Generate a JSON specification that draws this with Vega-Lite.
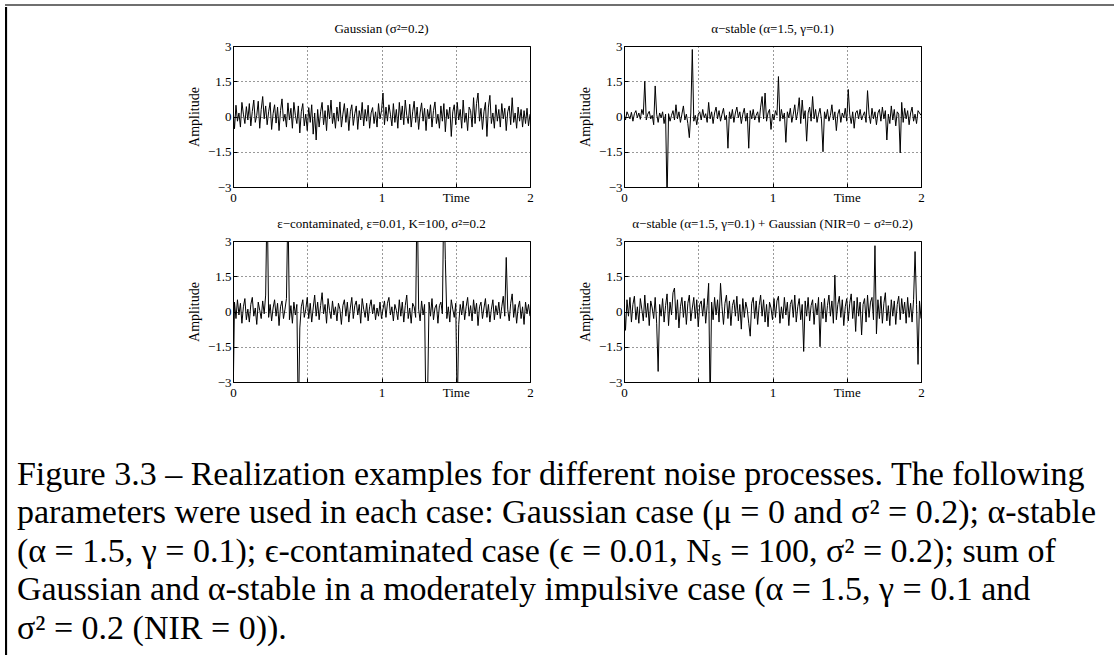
{
  "$schema": "https://vega.github.io/schema/vega-lite/v6.json",
  "background": "white",
  "padding": {"left": 5, "top": 4, "right": 0, "bottom": 0},
  "data": {"values": [
{"t":0,"a":0.35,"b":0.1,"c":-4.2,"d":0.4},
{"t":0.01,"a":-0.52,"b":-0.15,"c":0.4,"d":-0.8},
{"t":0.02,"a":0.48,"b":0.2,"c":-0.3,"d":0.5},
{"t":0.03,"a":-0.2,"b":0.05,"c":0.5,"d":-0.2},
{"t":0.04,"a":0.15,"b":-0.1,"c":-0.15,"d":0.6},
{"t":0.05,"a":-0.45,"b":0.18,"c":0.35,"d":-0.45},
{"t":0.06,"a":0.6,"b":-0.2,"c":-0.5,"d":0.3},
{"t":0.07,"a":0.1,"b":0.12,"c":0.2,"d":0.65},
{"t":0.08,"a":-0.3,"b":0.25,"c":0.55,"d":-0.35},
{"t":0.09,"a":0.42,"b":-0.05,"c":-0.35,"d":0.2},
{"t":0.1,"a":-0.15,"b":0.15,"c":0.1,"d":-0.5},
{"t":0.11,"a":0.55,"b":-0.12,"c":-0.45,"d":0.55},
{"t":0.12,"a":-0.4,"b":0.3,"c":0.3,"d":0.1},
{"t":0.13,"a":0.22,"b":0.08,"c":0.6,"d":-0.4},
{"t":0.14,"a":0.7,"b":1.5,"c":-0.2,"d":0.7},
{"t":0.15,"a":-0.25,"b":-0.15,"c":0.15,"d":-0.25},
{"t":0.16,"a":0.05,"b":0.1,"c":-0.55,"d":0.35},
{"t":0.17,"a":0.65,"b":0.22,"c":0.4,"d":-0.6},
{"t":0.18,"a":-0.5,"b":-0.1,"c":0.05,"d":0.45},
{"t":0.19,"a":0.3,"b":0.05,"c":-0.3,"d":0.15},
{"t":0.2,"a":0.85,"b":-0.35,"c":0.45,"d":-0.3},
{"t":0.21,"a":-0.1,"b":1.3,"c":-0.1,"d":0.6},
{"t":0.22,"a":0.45,"b":0.1,"c":0.7,"d":-0.5},
{"t":0.23,"a":-0.35,"b":-0.25,"c":5.1,"d":-2.55},
{"t":0.24,"a":0.2,"b":0.15,"c":-0.25,"d":0.3},
{"t":0.25,"a":0.6,"b":-0.05,"c":0.3,"d":-0.2},
{"t":0.26,"a":-0.55,"b":0.2,"c":-0.4,"d":0.55},
{"t":0.27,"a":0.12,"b":-0.3,"c":0.15,"d":-0.45},
{"t":0.28,"a":0.5,"b":0.1,"c":0.5,"d":0.25},
{"t":0.29,"a":-0.28,"b":-3.6,"c":-0.2,"d":0.75},
{"t":0.3,"a":0.4,"b":0.12,"c":0.35,"d":-0.6},
{"t":0.31,"a":-0.6,"b":-0.2,"c":-0.6,"d":0.4},
{"t":0.32,"a":0.25,"b":0.05,"c":0.2,"d":-0.15},
{"t":0.33,"a":0.75,"b":0.25,"c":0.45,"d":0.8},
{"t":0.34,"a":-0.2,"b":-0.15,"c":-0.3,"d":1.0},
{"t":0.35,"a":0.1,"b":0.5,"c":0.1,"d":-0.35},
{"t":0.36,"a":-0.45,"b":-0.1,"c":0.55,"d":0.5},
{"t":0.37,"a":0.58,"b":0.2,"c":4.6,"d":-0.7},
{"t":0.38,"a":-0.15,"b":-0.25,"c":-0.35,"d":0.2},
{"t":0.39,"a":0.35,"b":0.1,"c":0.25,"d":0.6},
{"t":0.4,"a":-0.5,"b":0.45,"c":-0.5,"d":-0.25},
{"t":0.41,"a":0.6,"b":-0.15,"c":0.4,"d":0.45},
{"t":0.42,"a":0.05,"b":0.1,"c":-0.15,"d":-0.55},
{"t":0.43,"a":-0.3,"b":-0.3,"c":0.3,"d":0.35},
{"t":0.44,"a":0.45,"b":-0.9,"c":-4.8,"d":0.7},
{"t":0.45,"a":-0.7,"b":0.15,"c":-0.7,"d":-0.4},
{"t":0.46,"a":0.2,"b":2.85,"c":0.2,"d":0.15},
{"t":0.47,"a":0.55,"b":-0.2,"c":0.5,"d":0.6},
{"t":0.48,"a":-0.4,"b":0.05,"c":-0.25,"d":-0.3},
{"t":0.49,"a":0.1,"b":-0.35,"c":0.1,"d":0.5},
{"t":0.5,"a":-0.6,"b":0.1,"c":0.6,"d":-0.65},
{"t":0.51,"a":0.38,"b":0.2,"c":-0.3,"d":0.3},
{"t":0.52,"a":-0.25,"b":-0.15,"c":0.35,"d":0.45},
{"t":0.53,"a":0.5,"b":0.3,"c":-0.45,"d":-0.2},
{"t":0.54,"a":-0.75,"b":-0.05,"c":0.15,"d":0.55},
{"t":0.55,"a":0.15,"b":0.12,"c":0.7,"d":-0.5},
{"t":0.56,"a":-1.0,"b":-0.25,"c":-0.2,"d":0.25},
{"t":0.57,"a":0.3,"b":0.6,"c":0.4,"d":1.2},
{"t":0.58,"a":-0.45,"b":-0.1,"c":-0.35,"d":-4.0},
{"t":0.59,"a":0.2,"b":0.2,"c":0.25,"d":0.4},
{"t":0.6,"a":0.6,"b":-0.3,"c":0.8,"d":-0.35},
{"t":0.61,"a":-0.35,"b":0.15,"c":-0.1,"d":0.6},
{"t":0.62,"a":0.25,"b":0.4,"c":0.3,"d":-0.15},
{"t":0.63,"a":-0.6,"b":-0.1,"c":-0.5,"d":0.5},
{"t":0.64,"a":0.48,"b":0.25,"c":0.55,"d":-0.45},
{"t":0.65,"a":-0.1,"b":-0.2,"c":0.05,"d":1.2},
{"t":0.66,"a":0.7,"b":0.1,"c":-0.3,"d":0.2},
{"t":0.67,"a":-0.3,"b":0.35,"c":0.45,"d":-0.55},
{"t":0.68,"a":0.15,"b":-0.15,"c":-0.15,"d":0.35},
{"t":0.69,"a":-0.5,"b":0.05,"c":0.2,"d":0.7},
{"t":0.7,"a":0.4,"b":-1.35,"c":-0.4,"d":-0.3},
{"t":0.71,"a":-0.2,"b":0.2,"c":0.35,"d":0.45},
{"t":0.72,"a":0.62,"b":-0.1,"c":0.1,"d":-0.6},
{"t":0.73,"a":-0.45,"b":0.3,"c":-0.55,"d":0.25},
{"t":0.74,"a":0.1,"b":-0.25,"c":0.25,"d":0.5},
{"t":0.75,"a":0.55,"b":0.15,"c":0.5,"d":-0.2},
{"t":0.76,"a":-0.25,"b":0.4,"c":-0.2,"d":0.65},
{"t":0.77,"a":0.35,"b":-0.05,"c":0.4,"d":-0.4},
{"t":0.78,"a":-0.6,"b":0.2,"c":-0.45,"d":0.3},
{"t":0.79,"a":0.2,"b":-0.3,"c":0.15,"d":-0.75},
{"t":0.8,"a":0.5,"b":0.1,"c":0.6,"d":0.55},
{"t":0.81,"a":-0.38,"b":0.35,"c":-0.3,"d":-0.25},
{"t":0.82,"a":0.12,"b":-0.2,"c":0.25,"d":0.4},
{"t":0.83,"a":0.45,"b":0.15,"c":0.45,"d":0.1},
{"t":0.84,"a":-0.55,"b":-1.35,"c":-0.15,"d":-0.5},
{"t":0.85,"a":0.25,"b":0.25,"c":0.3,"d":-1.05},
{"t":0.86,"a":-0.15,"b":-0.1,"c":-0.5,"d":0.35},
{"t":0.87,"a":0.6,"b":0.3,"c":0.55,"d":0.6},
{"t":0.88,"a":-0.4,"b":-0.15,"c":0.1,"d":-0.3},
{"t":0.89,"a":0.3,"b":0.05,"c":-0.25,"d":0.45},
{"t":0.9,"a":-0.2,"b":0.2,"c":0.35,"d":-0.55},
{"t":0.91,"a":0.48,"b":-0.25,"c":-0.4,"d":0.25},
{"t":0.92,"a":-0.5,"b":0.4,"c":0.2,"d":0.7},
{"t":0.93,"a":0.15,"b":0.85,"c":0.5,"d":-0.2},
{"t":0.94,"a":0.38,"b":-0.1,"c":-0.1,"d":0.5},
{"t":0.95,"a":-0.3,"b":1.0,"c":0.3,"d":-0.45},
{"t":0.96,"a":0.2,"b":-0.2,"c":-0.35,"d":0.3},
{"t":0.97,"a":-0.45,"b":0.15,"c":0.15,"d":-0.65},
{"t":0.98,"a":0.55,"b":0.3,"c":-0.2,"d":0.4},
{"t":0.99,"a":-0.1,"b":-0.55,"c":0.4,"d":0.15},
{"t":1,"a":0.25,"b":0.1,"c":-0.3,"d":-0.35},
{"t":1.01,"a":1.0,"b":-0.15,"c":0.1,"d":0.55},
{"t":1.02,"a":-0.35,"b":0.25,"c":0.45,"d":-0.25},
{"t":1.03,"a":0.4,"b":0.05,"c":-0.25,"d":0.45},
{"t":1.04,"a":-0.2,"b":1.7,"c":0.35,"d":0.65},
{"t":1.05,"a":0.5,"b":-0.2,"c":0.6,"d":-0.5},
{"t":1.06,"a":0.1,"b":0.3,"c":-0.15,"d":0.2},
{"t":1.07,"a":-0.4,"b":-0.1,"c":0.2,"d":-0.3},
{"t":1.08,"a":0.55,"b":0.15,"c":-0.4,"d":0.6},
{"t":1.09,"a":-0.25,"b":-1.1,"c":0.3,"d":-0.15},
{"t":1.1,"a":0.3,"b":0.2,"c":0.05,"d":0.4},
{"t":1.11,"a":-0.5,"b":-0.05,"c":-0.35,"d":-0.6},
{"t":1.12,"a":0.6,"b":0.35,"c":0.5,"d":0.3},
{"t":1.13,"a":-0.15,"b":-0.25,"c":-0.2,"d":0.5},
{"t":1.14,"a":0.45,"b":0.1,"c":0.4,"d":-0.25},
{"t":1.15,"a":-0.35,"b":0.5,"c":-0.45,"d":0.7},
{"t":1.16,"a":0.7,"b":-0.15,"c":0.25,"d":-0.45},
{"t":1.17,"a":0.05,"b":0.2,"c":0.7,"d":0.2},
{"t":1.18,"a":-0.3,"b":0.8,"c":-0.3,"d":0.55},
{"t":1.19,"a":0.52,"b":-0.3,"c":0.15,"d":-0.35},
{"t":1.2,"a":-0.45,"b":0.7,"c":-0.5,"d":0.3},
{"t":1.21,"a":0.2,"b":-0.1,"c":0.35,"d":-1.7},
{"t":1.22,"a":0.65,"b":0.25,"c":0.2,"d":0.45},
{"t":1.23,"a":-0.25,"b":-1.05,"c":-0.25,"d":-0.2},
{"t":1.24,"a":0.4,"b":0.15,"c":5.5,"d":0.6},
{"t":1.25,"a":-0.55,"b":0.4,"c":0.1,"d":-0.4},
{"t":1.26,"a":0.15,"b":-0.2,"c":-0.4,"d":0.25},
{"t":1.27,"a":0.58,"b":0.85,"c":0.45,"d":0.5},
{"t":1.28,"a":-0.2,"b":-0.1,"c":-0.15,"d":-0.55},
{"t":1.29,"a":0.35,"b":0.3,"c":0.3,"d":0.35},
{"t":1.3,"a":-0.6,"b":-0.25,"c":-4.9,"d":-0.15},
{"t":1.31,"a":0.3,"b":0.1,"c":-3.8,"d":0.6},
{"t":1.32,"a":-0.1,"b":0.35,"c":0.4,"d":-1.5},
{"t":1.33,"a":0.5,"b":-0.15,"c":-0.2,"d":0.4},
{"t":1.34,"a":-0.45,"b":-1.5,"c":0.55,"d":-0.3},
{"t":1.35,"a":0.25,"b":0.2,"c":-0.35,"d":0.55},
{"t":1.36,"a":0.62,"b":-0.1,"c":0.15,"d":-0.45},
{"t":1.37,"a":-0.3,"b":0.3,"c":0.3,"d":0.25},
{"t":1.38,"a":0.1,"b":-0.2,"c":-0.5,"d":0.7},
{"t":1.39,"a":-0.5,"b":0.05,"c":0.25,"d":-0.2},
{"t":1.4,"a":0.45,"b":0.5,"c":0.4,"d":0.45},
{"t":1.41,"a":-0.2,"b":-0.15,"c":-0.1,"d":-0.5},
{"t":1.42,"a":0.55,"b":0.2,"c":5.3,"d":1.55},
{"t":1.43,"a":-0.65,"b":-0.6,"c":2.2,"d":-0.35},
{"t":1.44,"a":0.3,"b":0.1,"c":-0.3,"d":0.3},
{"t":1.45,"a":-0.1,"b":0.3,"c":0.2,"d":0.65},
{"t":1.46,"a":0.4,"b":-0.25,"c":-0.45,"d":-0.25},
{"t":1.47,"a":-0.85,"b":0.15,"c":0.5,"d":0.5},
{"t":1.48,"a":0.2,"b":-0.05,"c":0.1,"d":-0.6},
{"t":1.49,"a":0.5,"b":0.35,"c":-0.25,"d":0.2},
{"t":1.5,"a":-0.35,"b":-0.2,"c":0.35,"d":0.55},
{"t":1.51,"a":0.6,"b":1.15,"c":-4.4,"d":-0.4},
{"t":1.52,"a":-0.15,"b":0.1,"c":-0.55,"d":0.35},
{"t":1.53,"a":0.3,"b":-0.3,"c":0.3,"d":0.75},
{"t":1.54,"a":-0.5,"b":0.2,"c":-0.15,"d":-0.3},
{"t":1.55,"a":0.7,"b":-0.5,"c":0.45,"d":0.45},
{"t":1.56,"a":-0.25,"b":0.15,"c":-0.35,"d":-0.85},
{"t":1.57,"a":0.15,"b":0.25,"c":0.2,"d":0.6},
{"t":1.58,"a":-0.6,"b":-0.1,"c":0.6,"d":-0.2},
{"t":1.59,"a":0.4,"b":0.3,"c":-0.2,"d":0.4},
{"t":1.6,"a":0.25,"b":-0.15,"c":0.25,"d":-1.0},
{"t":1.61,"a":-0.45,"b":0.05,"c":-0.4,"d":0.3},
{"t":1.62,"a":0.8,"b":0.2,"c":0.5,"d":0.55},
{"t":1.63,"a":-0.3,"b":-0.25,"c":-0.1,"d":-0.45},
{"t":1.64,"a":0.55,"b":1.1,"c":0.35,"d":0.7},
{"t":1.65,"a":1.0,"b":0.1,"c":-0.6,"d":-0.25},
{"t":1.66,"a":-0.2,"b":-0.3,"c":0.2,"d":0.4},
{"t":1.67,"a":0.35,"b":0.35,"c":0.4,"d":0.6},
{"t":1.68,"a":-0.55,"b":-0.1,"c":-0.3,"d":-0.35},
{"t":1.69,"a":0.2,"b":0.2,"c":0.15,"d":2.8},
{"t":1.7,"a":0.6,"b":-0.35,"c":0.55,"d":-0.95},
{"t":1.71,"a":-0.85,"b":0.15,"c":-0.25,"d":0.5},
{"t":1.72,"a":0.4,"b":0.3,"c":0.3,"d":-0.3},
{"t":1.73,"a":0.9,"b":-0.2,"c":-0.45,"d":0.65},
{"t":1.74,"a":-0.3,"b":0.4,"c":0.1,"d":-0.5},
{"t":1.75,"a":0.15,"b":-0.1,"c":0.5,"d":0.35},
{"t":1.76,"a":-0.5,"b":0.25,"c":-0.35,"d":0.8},
{"t":1.77,"a":0.5,"b":-1.0,"c":0.25,"d":-0.4},
{"t":1.78,"a":-0.2,"b":0.1,"c":-0.15,"d":0.25},
{"t":1.79,"a":0.3,"b":-0.3,"c":0.4,"d":-0.6},
{"t":1.8,"a":-0.45,"b":0.45,"c":-0.3,"d":0.5},
{"t":1.81,"a":0.55,"b":-0.15,"c":0.2,"d":-0.2},
{"t":1.82,"a":-0.1,"b":0.3,"c":0.65,"d":0.45},
{"t":1.83,"a":0.35,"b":-0.4,"c":-0.2,"d":-0.55},
{"t":1.84,"a":-0.6,"b":0.2,"c":2.3,"d":0.3},
{"t":1.85,"a":0.2,"b":0.1,"c":0.1,"d":0.65},
{"t":1.86,"a":0.45,"b":-1.55,"c":-0.4,"d":-0.35},
{"t":1.87,"a":-0.35,"b":0.6,"c":0.35,"d":0.55},
{"t":1.88,"a":0.8,"b":-0.25,"c":0.75,"d":-0.1},
{"t":1.89,"a":-0.25,"b":0.35,"c":-0.25,"d":0.4},
{"t":1.9,"a":0.15,"b":-0.1,"c":0.3,"d":-0.5},
{"t":1.91,"a":-0.5,"b":0.25,"c":-0.5,"d":0.6},
{"t":1.92,"a":0.4,"b":-0.35,"c":0.15,"d":-0.25},
{"t":1.93,"a":-0.2,"b":0.15,"c":0.45,"d":0.35},
{"t":1.94,"a":0.3,"b":0.4,"c":-0.3,"d":-0.45},
{"t":1.95,"a":-0.45,"b":-0.2,"c":0.2,"d":0.5},
{"t":1.96,"a":0.25,"b":0.1,"c":-0.55,"d":2.55},
{"t":1.97,"a":-0.3,"b":-0.3,"c":0.4,"d":0.3},
{"t":1.98,"a":0.35,"b":0.25,"c":-0.1,"d":-2.25},
{"t":1.99,"a":-0.4,"b":0.15,"c":0.3,"d":0.45},
{"t":2,"a":0.1,"b":0.05,"c":-0.2,"d":-0.3}
  ]},
  "spacing": 0,
  "vconcat": [
    {
      "data": {"values": []},
      "width": 1108, "height": 0.1,
      "view": {"stroke": "#6f6f6f", "strokeWidth": 2},
      "mark": {"type": "point"},
      "encoding": {}
    },
    {
      "spacing": 8,
      "hconcat": [
        {
          "data": {"values": []},
          "width": 0.1, "height": 650,
          "view": {"stroke": "black", "strokeWidth": 2},
          "mark": {"type": "point"},
          "encoding": {}
        },
        {
          "title": {
            "text": [
              "Figure 3.3 – Realization examples for different noise processes. The following",
              "parameters were used in each case: Gaussian case (μ = 0 and σ² = 0.2); α-stable",
              "(α = 1.5, γ = 0.1); ϵ-contaminated case (ϵ = 0.01, Nₛ = 100, σ² = 0.2); sum of",
              "Gaussian and α-stable in a moderately impulsive case (α = 1.5, γ = 0.1 and",
              "σ² = 0.2 (NIR = 0))."
            ],
            "orient": "bottom",
            "anchor": "start",
            "frame": "bounds",
            "dx": -170,
            "offset": 58,
            "font": "Liberation Serif",
            "fontSize": 34,
            "fontWeight": "normal",
            "lineHeight": 38.5,
            "color": "black"
          },
          "spacing": 12,
          "vconcat": [
            {
              "data": {"values": []},
              "width": 1, "height": 2,
              "view": {"stroke": null},
              "mark": {"type": "point"},
              "encoding": {}
            },
            {
              "spacing": 43,
              "hconcat": [
                {
                  "width": 297, "height": 141,
                  "title": "Gaussian (σ²=0.2)",
                  "mark": {"type": "line", "color": "black", "strokeWidth": 1, "clip": true},
                  "encoding": {
                    "x": {"field": "t", "type": "quantitative", "scale": {"domain": [0, 2], "nice": false},
                          "axis": {"values": [0, 0.5, 1, 1.5, 2], "labelExpr": "datum.value == 1.5 ? 'Time' : (datum.value == 0.5 ? '' : format(datum.value, '~g'))", "title": null}},
                    "y": {"field": "a", "type": "quantitative", "scale": {"domain": [-3, 3], "nice": false},
                          "axis": {"values": [-3, -1.5, 0, 1.5, 3], "labelExpr": "format(datum.value, '.1~f')", "title": "Amplitude"}}
                  }
                },
                {
                  "width": 297, "height": 141,
                  "title": "α−stable (α=1.5, γ=0.1)",
                  "mark": {"type": "line", "color": "black", "strokeWidth": 1, "clip": true},
                  "encoding": {
                    "x": {"field": "t", "type": "quantitative", "scale": {"domain": [0, 2], "nice": false},
                          "axis": {"values": [0, 0.5, 1, 1.5, 2], "labelExpr": "datum.value == 1.5 ? 'Time' : (datum.value == 0.5 ? '' : format(datum.value, '~g'))", "title": null}},
                    "y": {"field": "b", "type": "quantitative", "scale": {"domain": [-3, 3], "nice": false},
                          "axis": {"values": [-3, -1.5, 0, 1.5, 3], "labelExpr": "format(datum.value, '.1~f')", "title": "Amplitude"}}
                  }
                }
              ]
            },
            {
              "spacing": 43,
              "hconcat": [
                {
                  "width": 297, "height": 141,
                  "title": "ε−contaminated, ε=0.01, K=100, σ²=0.2",
                  "mark": {"type": "line", "color": "black", "strokeWidth": 1, "clip": true},
                  "encoding": {
                    "x": {"field": "t", "type": "quantitative", "scale": {"domain": [0, 2], "nice": false},
                          "axis": {"values": [0, 0.5, 1, 1.5, 2], "labelExpr": "datum.value == 1.5 ? 'Time' : (datum.value == 0.5 ? '' : format(datum.value, '~g'))", "title": null}},
                    "y": {"field": "c", "type": "quantitative", "scale": {"domain": [-3, 3], "nice": false},
                          "axis": {"values": [-3, -1.5, 0, 1.5, 3], "labelExpr": "format(datum.value, '.1~f')", "title": "Amplitude"}}
                  }
                },
                {
                  "width": 297, "height": 141,
                  "title": "α−stable (α=1.5, γ=0.1) + Gaussian (NIR=0 − σ²=0.2)",
                  "mark": {"type": "line", "color": "black", "strokeWidth": 1, "clip": true},
                  "encoding": {
                    "x": {"field": "t", "type": "quantitative", "scale": {"domain": [0, 2], "nice": false},
                          "axis": {"values": [0, 0.5, 1, 1.5, 2], "labelExpr": "datum.value == 1.5 ? 'Time' : (datum.value == 0.5 ? '' : format(datum.value, '~g'))", "title": null}},
                    "y": {"field": "d", "type": "quantitative", "scale": {"domain": [-3, 3], "nice": false},
                          "axis": {"values": [-3, -1.5, 0, 1.5, 3], "labelExpr": "format(datum.value, '.1~f')", "title": "Amplitude"}}
                  }
                }
              ]
            }
          ]
        }
      ]
    }
  ],
  "config": {
    "font": "Liberation Serif",
    "view": {"stroke": "black", "strokeWidth": 1},
    "axis": {
      "labelFont": "Liberation Serif", "labelFontSize": 13, "labelColor": "black",
      "titleFont": "Liberation Serif", "titleFontSize": 14, "titleFontWeight": "normal", "titleColor": "black",
      "domain": false, "grid": true, "gridColor": "black", "gridDash": [1, 3], "gridOpacity": 0.8,
      "tickColor": "black", "tickSize": -4, "labelFlush": false, "labelOverlap": false
    },
    "axisX": {"labelPadding": 8},
    "axisY": {"labelPadding": 6, "titlePadding": 6},
    "title": {"font": "Liberation Serif", "fontSize": 13, "fontWeight": "normal", "color": "black", "anchor": "middle", "frame": "group", "offset": 4}
  }
}
